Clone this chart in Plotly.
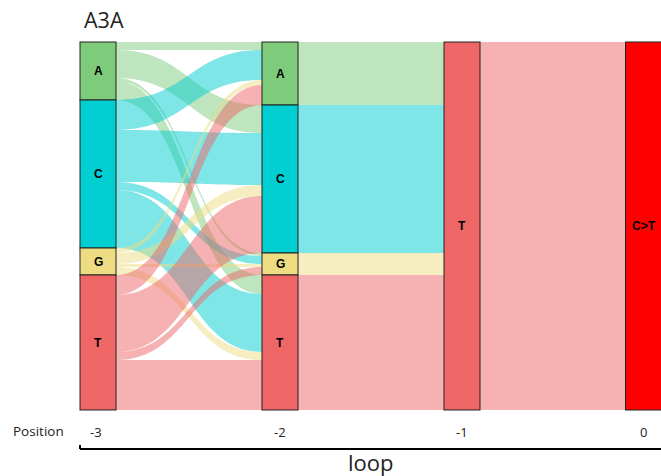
import plotly.graph_objects as go

# ---- data ----
title_text = "A3A"
positions = ["-3", "-2", "-1", "0"]
bases = ["A", "C", "G", "T"]
# flows from position -3 (rows) to position -2 (columns), order A, C, G, T
flow_m3_m2 = [
    [8, 28, 3, 19],    # from A
    [30, 52, 8, 58],   # from C
    [5, 11, 3, 8],     # from G
    [20, 57, 8, 50],   # from T
]
last_nodes = ["T", "C>T"]   # position -1 and position 0
axis_label = "Position"
bracket_label = "loop"

base_colors = {"A": "#7ECC7B", "C": "#00CED1", "G": "#EEDC82", "T": "#EE6666", "C>T": "#FF0000"}
base_rgb = {"A": (126, 204, 123), "C": (0, 206, 209), "G": (238, 220, 130), "T": (238, 102, 102)}

W, H = 661, 476


def fx(px):
    return px / W


def fy(py):
    return 1 - py / H


dom_left_px, dom_right_px = 80, 661
dom_top_px, dom_bot_px = 42, 410
dom_w_px = dom_right_px - dom_left_px
dom_h_px = dom_bot_px - dom_top_px
thick = 36

# node column centres (page px) -> normalised within the domain
col_px = [98, 280, 462, 643.5]
col_x = [(c - dom_left_px) / dom_w_px for c in col_px]

left_tot = [sum(r) for r in flow_m3_m2]
mid_tot = [sum(flow_m3_m2[i][j] for i in range(4)) for j in range(4)]
grand = sum(left_tot)

labels, colors, xs, ys = [], [], [], []


def add_col(names, totals, col):
    cum = 0
    for n, t in zip(names, totals):
        labels.append(n)
        colors.append(base_colors[n])
        xs.append(col_x[col])
        ys.append((cum + t / 2) / grand)
        cum += t


add_col(bases, left_tot, 0)
add_col(bases, mid_tot, 1)
add_col([last_nodes[0]], [grand], 2)
add_col([last_nodes[1]], [grand], 3)

src, tgt, val, lcol = [], [], [], []
for i in range(4):
    for j in range(4):
        src.append(i); tgt.append(4 + j); val.append(flow_m3_m2[i][j])
        r, g, b = base_rgb[bases[i]]
        lcol.append(f"rgba({r},{g},{b},0.5)")
for j in range(4):
    src.append(4 + j); tgt.append(8); val.append(mid_tot[j])
    r, g, b = base_rgb[bases[j]]
    lcol.append(f"rgba({r},{g},{b},0.5)")
src.append(8); tgt.append(9); val.append(grand)
r, g, b = base_rgb["T"]
lcol.append(f"rgba({r},{g},{b},0.5)")

fig = go.Figure(go.Sankey(
    arrangement="fixed",
    domain=dict(x=[fx(dom_left_px), fx(dom_right_px)], y=[fy(dom_bot_px), fy(dom_top_px)]),
    node=dict(label=[""] * len(labels), color=colors, x=xs, y=ys, pad=0,
              thickness=thick, line=dict(color="#222222", width=1)),
    link=dict(source=src, target=tgt, value=val, color=lcol),
    hoverinfo="none",
))

ann = []
for n, x, y in zip(labels, xs, ys):
    px = dom_left_px + x * dom_w_px
    py = dom_top_px + y * dom_h_px
    ann.append(dict(x=fx(px), y=fy(py), xref="paper", yref="paper", text=f"<b>{n}</b>",
                    showarrow=False, font=dict(family="Liberation Sans", size=12, color="black"),
                    xanchor="center", yanchor="middle"))
for p, c in zip(positions, col_px):
    ann.append(dict(x=fx(c - 2 if p == "-3" else c), y=fy(432), xref="paper", yref="paper", text=p,
                    showarrow=False, font=dict(family="Open Sans", size=13, color="#222"),
                    xanchor="center", yanchor="middle"))
ann.append(dict(x=fx(38), y=fy(431), xref="paper", yref="paper", text=axis_label, showarrow=False,
                font=dict(family="Open Sans", size=13.5, color="#222"), xanchor="center", yanchor="middle"))
ann.append(dict(x=fx(370.5), y=fy(462), xref="paper", yref="paper", text=bracket_label, showarrow=False,
                font=dict(family="Open Sans", size=22, color="#222"), xanchor="center", yanchor="middle"))
ann.append(dict(x=fx(82), y=fy(20), xref="paper", yref="paper", text=title_text, showarrow=False,
                font=dict(family="Open Sans", size=21.5, color="#222"), xanchor="left", yanchor="middle"))

shapes = [
    dict(type="line", xref="paper", yref="paper", x0=fx(80), x1=fx(661), y0=fy(449), y1=fy(449),
         line=dict(color="black", width=2)),
    dict(type="line", xref="paper", yref="paper", x0=fx(80), x1=fx(80), y0=fy(449), y1=fy(445),
         line=dict(color="black", width=2)),
]

fig.update_layout(width=W, height=H, margin=dict(l=0, r=0, t=0, b=0),
                  paper_bgcolor="white", plot_bgcolor="white",
                  annotations=ann, shapes=shapes, showlegend=False)
fig.write_html("out.html", config={"displayModeBar": False},
               post_script="document.body.style.margin='0px';document.body.style.overflow='hidden';")
